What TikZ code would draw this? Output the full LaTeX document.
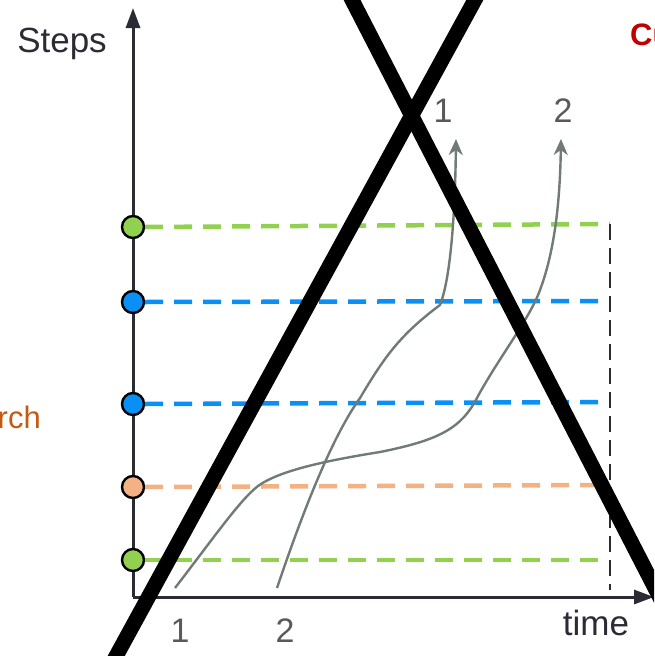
\documentclass[tikz,border=0pt]{standalone}
\usepackage{fontspec}
\setmainfont{Liberation Sans}
\usetikzlibrary{arrows.meta}
\definecolor{axisc}{HTML}{2B2B36}
\definecolor{greenc}{HTML}{92D050}
\definecolor{bluec}{HTML}{0A8FF5}
\definecolor{orangec}{HTML}{F4B183}
\definecolor{curvec}{HTML}{6F7B74}
\definecolor{labelc}{HTML}{595959}
\definecolor{redc}{HTML}{C00000}
\definecolor{searchc}{HTML}{C55A11}
\tikzset{
  axisline/.style={draw=axisc, line width=3pt, -{Triangle[length=20pt,width=14pt]}},
  dot/.style={circle, draw=black, line width=2.4pt, minimum size=22pt, inner sep=0pt},
  level/.style={line width=4.5pt, dash pattern=on 18pt off 11pt},
  guide/.style={draw=axisc, line width=1.8pt, dash pattern=on 16pt off 8pt},
  flow/.style={draw=curvec, line width=2.4pt, -{Stealth[length=16pt,width=14pt,inset=5pt]}},
  lbl/.style={anchor=base, inner sep=0pt, font=\fontsize{34}{40}\selectfont},
  cross/.style={draw=black, line width=15pt}
}
\begin{document}
\begin{tikzpicture}[x=1pt,y=-1pt]
\useasboundingbox (0,0) rectangle (654,656);
\clip (0,0) rectangle (654,656);
% axes
\coordinate (o) at (133,597);
\coordinate (ytop) at (133,8);
\coordinate (xend) at (654,597);
\draw[axisline] (o) -- (ytop);
\draw[axisline] (o) -- (xend);
% level lines
\node[dot, fill=greenc] (c1) at (133,227) {};
\node[dot, fill=bluec] (c2) at (133,302) {};
\node[dot, fill=bluec] (c3) at (133,404) {};
\node[dot, fill=orangec] (c4) at (133,487) {};
\node[dot, fill=greenc] (c5) at (133,560) {};
\coordinate (e1) at (610,224);
\coordinate (e2) at (608,301);
\coordinate (e3) at (608,402);
\coordinate (e4) at (608,485);
\coordinate (e5) at (608,560);
\coordinate (g2) at (610,590);
\draw[level, greenc] (c1.east) -- (e1);
\draw[level, bluec] (c2.east) -- (e2);
\draw[level, bluec] (c3.east) -- (e3);
\draw[level, orangec] (c4.east) -- (e4);
\draw[level, greenc] (c5.east) -- (e5);
\draw[guide] (e1) -- (g2);
% curves
\coordinate (sa) at (175,588);
\coordinate (ta) at (561,139);
\coordinate (sb) at (277,588);
\coordinate (tb) at (456,139);
\draw[flow] (sa) .. controls (215,536) and (240,500) .. (258,486)
  .. controls (280,470) and (330,460) .. (380,452)
  .. controls (440,440) and (462,428) .. (478,396)
  .. controls (500,356) and (530,318) .. (540,290)
  .. controls (555,250) and (560,200) .. (ta);
\draw[flow] (sb) .. controls (300,520) and (330,440) .. (360,398)
  .. controls (385,356) and (400,335) .. (440,305)
  .. controls (450,280) and (455,220) .. (tb);
% labels
\node[lbl, text=axisc, font=\fontsize{35}{40}\selectfont] (steps) at (62,52) {Steps};
\node[lbl, text=axisc, font=\fontsize{35}{40}\selectfont] (time) at (596,635) {time};
\node[lbl, text=labelc] (b1) at (180,642) {1};
\node[lbl, text=labelc] (b2) at (285,642) {2};
\node[lbl, text=labelc] (t1) at (443,122) {1};
\node[lbl, text=labelc] (t2) at (563,122) {2};
\node[anchor=base west, inner sep=0pt, text=redc, font=\bfseries\fontsize{31}{36}\selectfont] (cu) at (630,45) {Cu};
\node[anchor=base east, inner sep=0pt, text=searchc, font=\fontsize{31}{36}\selectfont] (rch) at (41,428) {rch};
% big cross
\coordinate (x1a) at (114,660);
\coordinate (x1b) at (477,-4);
\coordinate (x2a) at (350,-4);
\coordinate (x2b) at (690,656);
\draw[cross] (x1a) -- (x1b);
\draw[cross] (x2a) -- (x2b);
\end{tikzpicture}
\end{document}
